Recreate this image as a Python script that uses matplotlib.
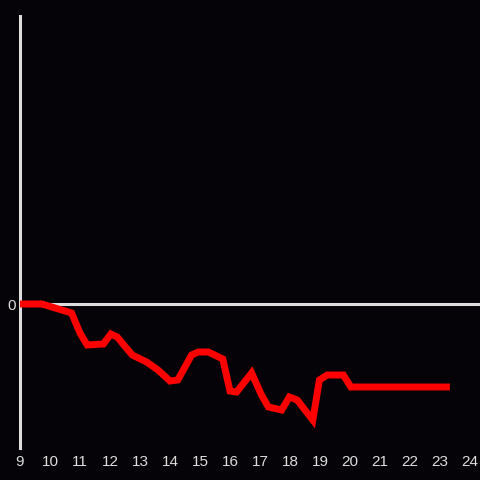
import matplotlib
matplotlib.use("Agg")
import matplotlib.pyplot as plt

x_vals = [9.0, 9.73, 10.72, 11.0, 11.24, 11.78, 12.03, 12.24, 12.74, 13.22, 13.6, 14.0, 14.26,
          14.72, 14.94, 15.28, 15.76, 16.0, 16.22, 16.72, 17.05, 17.28, 17.72, 17.98, 18.24,
          18.76, 18.98, 19.24, 19.78, 20.03, 23.33]
y_vals = [0, 0, -9, -29, -41, -40, -30, -33, -51, -58, -66, -77, -76,
          -51, -48, -48, -55, -87, -88, -69, -91, -103, -106, -93, -96,
          -116, -76, -71, -71, -83, -83]
x_ticks = list(range(9, 25))
y_ticks = [0]

bg = "#050307"
fg = "#dddddd"

fig = plt.figure(figsize=(4.8, 4.8), dpi=100, facecolor=bg)
ax = fig.add_axes([20/480, 32/480, 460/480, 432/480], facecolor=bg)
ax.axhline(0, color=fg, lw=2.2, zorder=1)
ax.plot(x_vals, y_vals, color="#ff0000", lw=5, solid_joinstyle="miter",
        solid_capstyle="butt", zorder=3)
ax.set_xlim(9, 9 + 460/30)
ax.set_ylim(-144, 288)
ax.set_xticks(x_ticks)
ax.set_yticks(y_ticks)
for s in ["top", "right", "bottom"]:
    ax.spines[s].set_visible(False)
ax.spines["left"].set_color(fg)
ax.spines["left"].set_linewidth(2.2)
ax.tick_params(axis="both", length=0, colors=fg, labelsize=11,
               labelfontfamily="Liberation Sans")
ax.tick_params(axis="x", pad=5)
ax.tick_params(axis="y", pad=3)
fig.savefig("out.png", dpi=100, facecolor=bg)
